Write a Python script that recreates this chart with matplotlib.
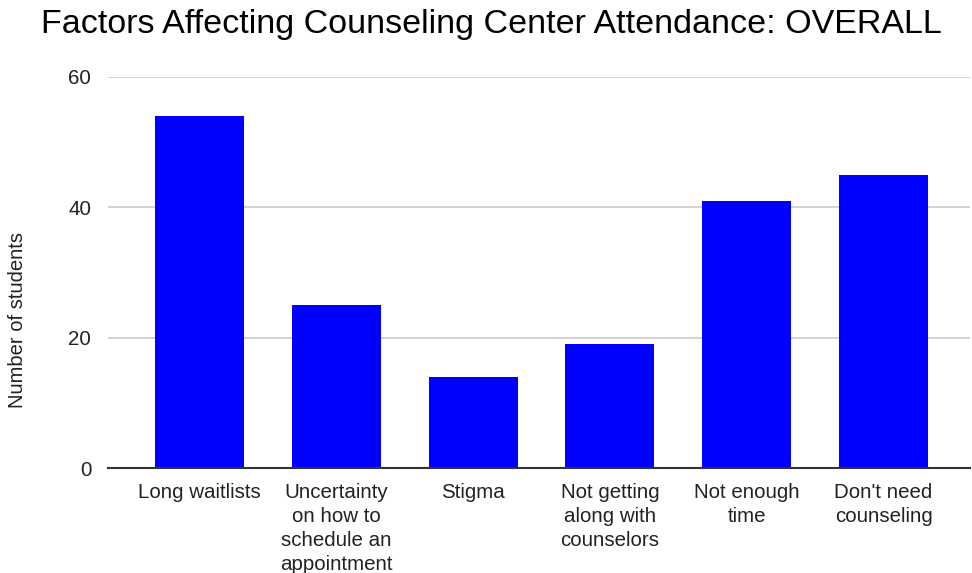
import matplotlib
matplotlib.use("Agg")
import matplotlib.pyplot as plt

categories = ["Long waitlists", "Uncertainty\non how to\nschedule an\nappointment", "Stigma",
              "Not getting\nalong with\ncounselors", "Not enough\ntime", "Don't need\ncounseling"]
values = [54, 25, 14, 19, 41, 45]
yticks = [0, 20, 40, 60]

plt.rcParams['font.family'] = ['Liberation Sans', 'DejaVu Sans']

W, H = 972, 573
fig = plt.figure(figsize=(W / 100, H / 100), dpi=100)
ax = fig.add_axes([108 / W, (H - 468) / H, (970 - 108) / W, (468 - 77) / H])

x = list(range(len(categories)))
ax.bar(x, values, width=0.65, color="#0000ff", zorder=3)
ax.set_xlim(-0.669, 5.632)
ax.set_ylim(0, 60)
ax.set_yticks(yticks)
ax.set_xticks(x)
ax.set_xticklabels(categories, fontsize=14.8, color="#222222", linespacing=1.32, va="top")
ax.tick_params(axis="x", length=0, pad=11)
ax.tick_params(axis="y", length=0, pad=12, labelsize=14.8, labelcolor="#222222")
ax.yaxis.grid(True, color="#cccccc", linewidth=1.2, zorder=0)
for s in ["top", "right", "left"]:
    ax.spines[s].set_visible(False)
ax.spines["bottom"].set_color("#333333")
ax.spines["bottom"].set_linewidth(1.5)
ax.spines["bottom"].set_zorder(4)

fig.text(18 / W, 1 - 320 / H, "Number of students", rotation=90, ha="center", va="center",
         fontsize=14.5, color="#222222")
fig.text(491 / W, 1 - 24 / H, "Factors Affecting Counseling Center Attendance: OVERALL",
         ha="center", va="center", fontsize=24.5, color="#000000")

fig.savefig("out.png", dpi=100)
